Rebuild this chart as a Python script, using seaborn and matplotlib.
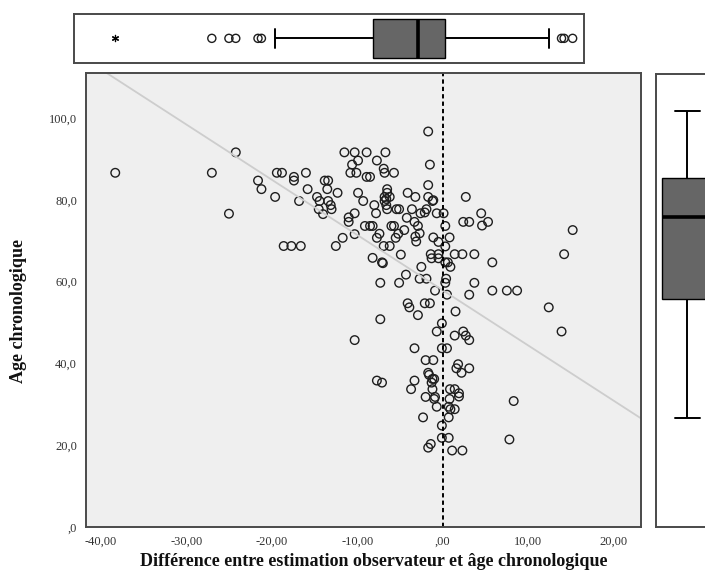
import numpy as np
import pandas as pd
import matplotlib
matplotlib.use("Agg")
import matplotlib.pyplot as plt
import seaborn as sns
from matplotlib.ticker import FuncFormatter

# difference between observer estimate and chronological age
difference = [
    -38.3, -27.0, -24.2, -25.0, -21.6, -21.2, -19.6, -19.4, -18.8, -18.6,
    -17.7, -16.6, -17.4, -17.4, -16.0, -16.8, -15.8, -14.7, -14.4, -14.5,
    -14.0, -13.8, -13.4, -13.5, -13.4, -13.1, -13.0, -12.3, -12.5, -11.7,
    -10.3, -11.0, -11.0, -10.3, -11.5, -10.3, -9.9, -10.6, -10.8, -10.1,
    -9.9,
    -1.7, -1.5, -1.7, -1.7, -1.2, -1.1, 2.7, -8.9, -6.7, -7.7,
    -8.9, -8.5, -6.9, -6.8, -5.7, -9.3, -8.0, -7.8, -9.1, -8.5,
    -8.2, -6.5, -6.5, -6.8, -6.2, -6.6, -6.8, -6.6, -6.5, -5.4,
    -5.1, -4.1, -3.2, -3.6, -4.2, -3.3, -2.9, -2.6, -2.1, -1.9,
    -0.7, 0.1, 0.3, -6.0, -5.7, -7.4, -7.7, -5.2, -4.5, -3.2,
    -2.7, -3.1, -5.5, -6.9, -6.2, -1.1, -0.5, 0.3, 0.8, -4.9,
    -8.2, -7.1, -7.0, -1.4, -0.5, -1.3, -0.5, 0.3, 0.6, 0.9,
    -2.5, 1.4, 2.3, 3.7, 5.8, 2.4, 3.1, 4.5, 5.3, 4.6,
    15.2, 14.2, -7.3, -5.1, -4.3, -2.7, -1.9, -0.9, 0.4, 0.3,
    0.5, 3.7, 3.1, 5.8, 7.5, 8.7,
    12.4, 13.9, -4.1, -3.9, -2.1, -1.5, -2.9, 1.5, -7.3, -0.1,
    -0.7, 2.4, 1.4, 2.7, 3.1, -10.3, -3.3, -0.1, 0.5, -2.0,
    -1.1, 1.8, 1.6, 3.1, 2.2, -1.7, -1.6, -1.2, -1.0, -1.3,
    -7.7, -7.1, -3.3, -3.7, -1.2, 0.85, 1.4, 1.9, 1.9, -2.0,
    -0.9, 0.8, -1.0, 8.3, -0.7, 0.7, 1.4, 0.9, -2.3, 0.7,
    -0.1, -0.1, 0.7, 7.8, -1.4, -1.7, 1.1, 2.3,
]

# chronological age
age = [
    86.6, 86.6, 91.6, 76.6, 84.7, 82.6, 80.7, 86.6, 86.6, 68.7,
    68.7, 68.7, 85.6, 84.7, 86.6, 79.7, 82.6, 80.7, 79.7, 77.7,
    76.5, 84.7, 84.7, 82.6, 79.7, 78.7, 77.7, 81.7, 68.7, 70.7,
    71.6, 75.7, 74.6, 76.7, 91.6, 91.6, 89.6, 88.6, 86.6, 86.6,
    81.7,
    96.7, 88.6, 83.6, 80.7, 79.7, 79.9, 80.7, 91.6, 91.6, 89.6,
    85.6, 85.6, 87.6, 86.6, 86.6, 79.7, 78.7, 76.7, 73.6, 73.6,
    73.6, 82.6, 81.7, 80.7, 80.7, 80.2, 79.7, 78.7, 77.7, 77.7,
    77.7, 81.7, 80.7, 77.7, 75.6, 74.6, 73.6, 76.7, 76.9, 77.7,
    76.7, 76.7, 73.6, 73.6, 73.6, 71.7, 70.7, 71.7, 72.6, 71.0,
    71.8, 69.8, 70.7, 68.7, 68.7, 70.8, 69.7, 68.6, 70.8, 66.6,
    65.8, 64.7, 64.5, 66.7, 66.7, 65.7, 65.7, 64.7, 64.7, 63.6,
    63.6, 66.7, 66.7, 66.7, 64.7, 74.6, 74.6, 76.7, 74.6, 73.7,
    72.6, 66.7, 59.7, 59.7, 61.7, 60.7, 60.7, 57.8, 60.7, 59.7,
    56.8, 59.7, 56.8, 57.8, 57.8, 57.8,
    53.7, 47.8, 54.7, 53.7, 54.7, 54.7, 51.8, 52.7, 50.8, 49.8,
    47.8, 47.8, 46.8, 46.8, 45.7, 45.7, 43.7, 43.7, 43.7, 40.8,
    40.8, 39.8, 38.8, 38.8, 37.7, 37.7, 37.2, 36.2, 36.2, 35.3,
    35.8, 35.3, 35.8, 33.7, 33.7, 33.7, 33.7, 32.7, 31.9, 31.8,
    31.8, 31.3, 31.3, 30.8, 29.4, 29.4, 28.8, 28.8, 26.8, 26.8,
    24.8, 21.8, 21.8, 21.4, 20.3, 19.4, 18.7, 18.7,
]

x_ticks = [-40, -30, -20, -10, 0, 10, 20]
y_ticks = [0, 20, 40, 60, 80, 100]
zero_line = 0

df = pd.DataFrame({"difference": difference, "age": age})

sns.set_style("white")
plt.rcParams["font.family"] = ["Liberation Serif", "DejaVu Serif"]


def spss_format(decimals):
    # SPSS style: decimal comma, no leading zero
    def fmt(v, pos):
        s = f"{v:.{decimals}f}".replace(".", ",")
        if s.startswith("-0,") and float(v) == 0:
            s = s[1:]
        if s.startswith("0,"):
            s = s[1:]
        return s
    return FuncFormatter(fmt)


def outlier_split(values):
    q1, q3 = np.percentile(values, [25, 75])
    iqr = q3 - q1
    values = np.asarray(values)
    far = (values < q1 - 3 * iqr) | (values > q3 + 3 * iqr)
    out = ((values < q1 - 1.5 * iqr) | (values > q3 + 1.5 * iqr)) & ~far
    return values[out], values[far]


W, H = 705, 577
fig = plt.figure(figsize=(W / 100, H / 100), dpi=100)
ax = fig.add_axes([86 / W, 1 - 527 / H, (641 - 86) / W, (527 - 73) / H])
ax_top = fig.add_axes([74 / W, 1 - 62.7 / H, 510 / W, 48.7 / H])
ax_right = fig.add_axes([656 / W, 1 - 527 / H, 62.5 / W, (527 - 74) / H])

frame_color = "#4a4a4a"
box_kws = dict(color="#666666", linecolor="black", linewidth=1.4, width=0.8,
               showfliers=False, medianprops=dict(linewidth=2.6),
               boxprops=dict(linewidth=1.0))

# main scatter
ax.set_facecolor("#efefef")
ax.set_xlim(-41.72, 23.19)
ax.set_ylim(0, 111)
sns.regplot(data=df, x="difference", y="age", ax=ax, scatter=False, ci=None,
            truncate=False, line_kws=dict(color="#cdcdcd", linewidth=1.3))
ax.axvline(zero_line, color="black", linewidth=1.4, linestyle=(0, (2.2, 1.6)))
sns.scatterplot(data=df, x="difference", y="age", ax=ax, s=38,
                facecolor="none", edgecolor="#1e1e1e", linewidth=1.0)
ax.set_xlim(-41.72, 23.19)
ax.set_ylim(0, 111)
ax.set_xticks(x_ticks)
ax.set_yticks(y_ticks)
ax.xaxis.set_major_formatter(spss_format(2))
ax.yaxis.set_major_formatter(spss_format(1))
ax.tick_params(axis="both", direction="out", length=5, width=1.3,
               color=frame_color, labelsize=9, labelcolor="#333333", pad=1.5)
ax.tick_params(axis="x", top=False)
ax.tick_params(axis="y", right=False)
for sp in ax.spines.values():
    sp.set_color(frame_color)
    sp.set_linewidth(1.4)
ax.set_xlabel("Différence entre estimation observateur et âge chronologique",
              fontsize=13, fontweight="bold", color="#111111")
ax.set_ylabel("Age chronologique", fontsize=13, fontweight="bold",
              color="#111111")
ax.xaxis.set_label_coords(0.519, -0.057)
ax.yaxis.set_label_coords(-0.106, 0.475)

# top boxplot of the difference
sns.boxplot(x=df["difference"], ax=ax_top, orient="h", **box_kws)
out_x, far_x = outlier_split(difference)
ax_top.scatter(out_x, np.zeros(len(out_x)), s=34, facecolor="none",
               edgecolor="#1e1e1e", linewidth=1.0, zorder=3)
ax_top.scatter(far_x, np.zeros(len(far_x)), s=20, marker=(6, 2, 0),
               color="black", linewidth=0.9, zorder=3)
ax_top.set_xlim(-43.12, 16.53)
ax_top.set_ylim(0.5, -0.5)

# right boxplot of age
sns.boxplot(y=df["age"], ax=ax_right, orient="v", **box_kws)
out_y, far_y = outlier_split(age)
ax_right.scatter(np.zeros(len(out_y)), out_y, s=34, facecolor="none",
                 edgecolor="#1e1e1e", linewidth=1.0, zorder=3)
ax_right.set_xlim(-0.5, 0.5)
ax_right.set_ylim(-9, 106)

for a in (ax_top, ax_right):
    a.set_facecolor("white")
    a.set_xticks([])
    a.set_yticks([])
    a.set_xlabel("")
    a.set_ylabel("")
    for sp in a.spines.values():
        sp.set_color(frame_color)
        sp.set_linewidth(1.4)

fig.savefig("out.png", dpi=100)
